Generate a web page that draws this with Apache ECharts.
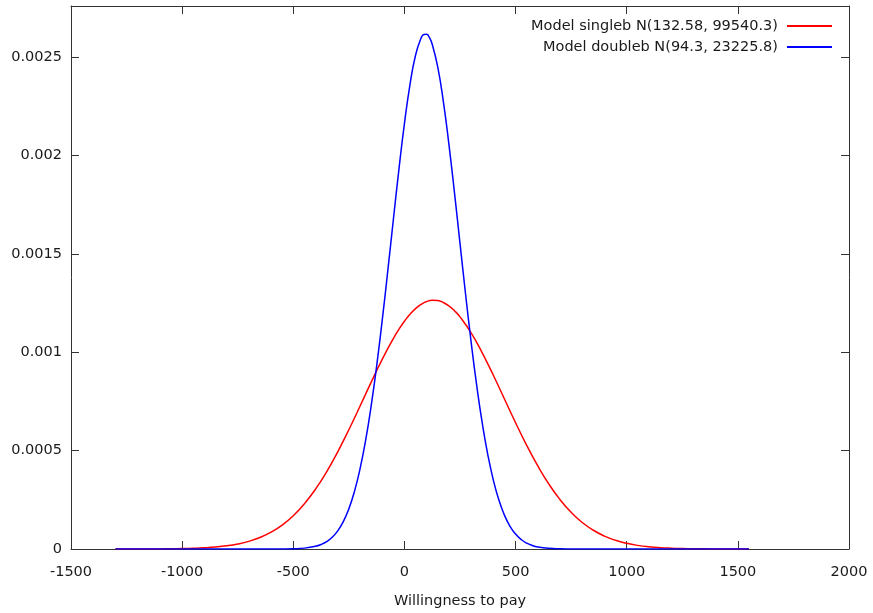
<!DOCTYPE html>
<html>
<head>
<meta charset="utf-8">
<script src="https://cdn.jsdelivr.net/npm/echarts@6/dist/echarts.min.js"></script>
<style>html,body{margin:0;padding:0;background:#fff}#c{width:873px;height:613px}</style>
</head>
<body>
<div id="c"></div>
<script>
const seriesNames = ['Model singleb N(132.58, 99540.3)', 'Model doubleb N(94.3, 23225.8)'];
const xAxisTitle = 'Willingness to pay';
const xTicks = [-1500, -1000, -500, 0, 500, 1000, 1500, 2000];
const yTicks = [0, 0.0005, 0.001, 0.0015, 0.002, 0.0025];

const redX = [-1300,-1250,-1200,-1150,-1100,-1050,-1000,-950,-900,-850,-800,-750,-700,-650,-600,-550,-500,-450,-400,-350,-300,-250,-200,-150,-100,-50,-25,0,25,50,75,100,125,150,175,200,225,250,300,350,400,450,500,550,600,650,700,750,800,850,900,950,1000,1050,1100,1150,1200,1250,1300,1350,1400,1450,1500,1550];
const redY = [4.2e-8,8.5e-8,1.69e-7,3.27e-7,6.14e-7,1.124e-6,2.01e-6,3.51e-6,5.97e-6,9.90e-6,1.60e-5,2.53e-5,3.89e-5,5.83e-5,8.53e-5,1.218e-4,1.694e-4,2.299e-4,3.041e-4,3.925e-4,4.941e-4,6.062e-4,7.254e-4,8.467e-4,9.637e-4,1.0695e-3,1.1162e-3,1.1577e-3,1.1931e-3,1.2219e-3,1.2436e-3,1.2578e-3,1.2641e-3,1.2626e-3,1.2531e-3,1.2360e-3,1.2114e-3,1.1799e-3,1.0985e-3,9.973e-4,8.829e-4,7.624e-4,6.419e-4,5.270e-4,4.220e-4,3.295e-4,2.509e-4,1.864e-4,1.349e-4,9.53e-5,6.56e-5,4.41e-5,2.89e-5,1.84e-5,1.15e-5,6.98e-6,4.13e-6,2.39e-6,1.35e-6,7.4e-7,4.0e-7,2.1e-7,1.05e-7,5.2e-8];

const blueX = [-1300,-1250,-1200,-1150,-1100,-1050,-1000,-950,-900,-850,-800,-750,-700,-650,-600,-550,-500,-450,-400,-375,-350,-325,-300,-275,-250,-225,-200,-175,-150,-125,-100,-75,-50,-25,0,25,50,75,87.5,100,112.5,125,150,175,200,225,250,275,300,325,350,375,400,425,450,475,500,525,550,575,600,650,700,750,800,850,900,950,1000,1050,1100,1150,1200,1250,1300,1350,1400,1450,1500,1550];
const blueY = [0,0,0,0,0,0,0,0,0,0,0,0,0,0,8.2e-8,3.4e-7,1.31e-6,4.45e-6,1.361e-5,2.28e-5,3.735e-5,5.95e-5,9.21e-5,1.389e-4,2.040e-4,2.917e-4,4.056e-4,5.495e-4,7.244e-4,9.297e-4,1.1617e-3,1.4124e-3,1.6721e-3,1.9271e-3,2.1619e-3,2.3609e-3,2.5097e-3,2.5971e-3,2.6154e-3,2.6162e-3,2.5994e-3,2.5654e-3,2.4489e-3,2.2756e-3,2.0583e-3,1.8124e-3,1.5535e-3,1.2962e-3,1.0529e-3,8.325e-4,6.407e-4,4.800e-4,3.502e-4,2.486e-4,1.718e-4,1.156e-4,7.57e-5,4.83e-5,2.99e-5,1.81e-5,1.06e-5,3.39e-6,9.7e-7,2.5e-7,0,0,0,0,0,0,0,0,0,0,0,0,0,0,0,0];

const font = 'DejaVu Sans';
const fs = 14.5;
const txt = '#1a1a1a';
function axisCommon() {
  return {
    type: 'value',
    axisLine: { show: true, onZero: false, lineStyle: { color: '#333', width: 1 } },
    axisTick: { show: true, inside: true, length: 8, lineStyle: { color: '#333' } },
    splitLine: { show: false }
  };
}

const chart = echarts.init(document.getElementById('c'), null, { renderer: 'canvas' });
chart.setOption({
  animation: false,
  backgroundColor: '#fff',
  grid: { left: 71, right: 24, top: 6, bottom: 64, containLabel: false, outerBoundsMode: 'none' },
  legend: {
    orient: 'vertical',
    right: 36,
    top: 13,
    align: 'right',
    icon: 'rect',
    itemWidth: 45,
    itemHeight: 2,
    itemGap: 5,
    textStyle: { fontFamily: font, fontSize: fs, color: txt, lineHeight: 16, padding: [0, 4, 0, 0] },
    data: seriesNames
  },
  xAxis: [
    Object.assign(axisCommon(), {
      position: 'bottom', min: xTicks[0], max: xTicks[xTicks.length - 1], interval: 500,
      axisLabel: { fontFamily: font, fontSize: fs, color: txt, margin: 16, formatter: v => String(v) },
      name: xAxisTitle, nameLocation: 'middle', nameGap: 45,
      nameTextStyle: { fontFamily: font, fontSize: fs, color: txt }
    }),
    Object.assign(axisCommon(), {
      position: 'top', min: xTicks[0], max: xTicks[xTicks.length - 1], interval: 500,
      axisLabel: { show: false }
    })
  ],
  yAxis: [
    Object.assign(axisCommon(), {
      position: 'left', min: 0, max: 0.00276, interval: 0.0005,
      axisLabel: { fontFamily: font, fontSize: fs, color: txt, margin: 9, showMaxLabel: false,
        formatter: v => (yTicks.find(t => Math.abs(t - v) < 1e-9) !== undefined ? String(+v.toFixed(4)) : '') }
    }),
    Object.assign(axisCommon(), {
      position: 'right', min: 0, max: 0.00276, interval: 0.0005,
      axisLabel: { show: false }
    })
  ],
  series: [
    {
      name: seriesNames[0], type: 'line', xAxisIndex: 0, yAxisIndex: 0,
      data: redX.map((x, i) => [x, redY[i]]),
      showSymbol: false, symbol: 'none', smooth: 0.5,
      lineStyle: { color: '#ff0000', width: 1.5 }, itemStyle: { color: '#ff0000' }
    },
    {
      name: seriesNames[1], type: 'line', xAxisIndex: 0, yAxisIndex: 0,
      data: blueX.map((x, i) => [x, blueY[i]]),
      showSymbol: false, symbol: 'none', smooth: 0.5,
      lineStyle: { color: '#0000ff', width: 1.5 }, itemStyle: { color: '#0000ff' }
    }
  ]
});
</script>
</body>
</html>
